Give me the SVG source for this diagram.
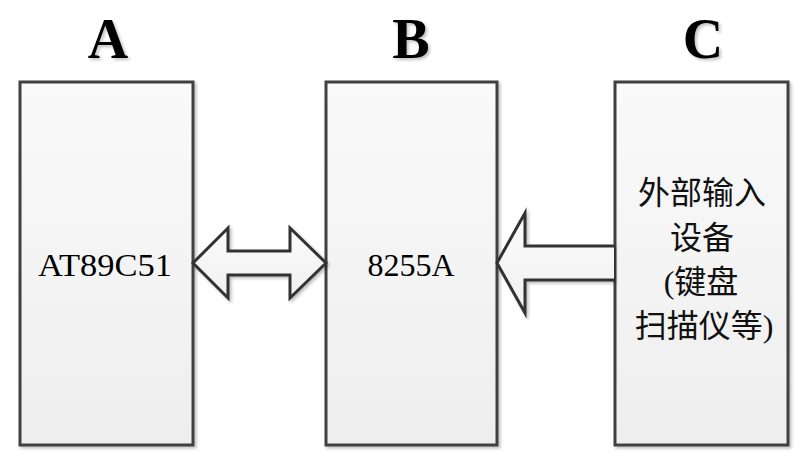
<svg xmlns="http://www.w3.org/2000/svg" width="808" height="464" viewBox="0 0 808 464">
  <defs>
    <linearGradient id="boxFill" x1="0" y1="0" x2="0" y2="1">
      <stop offset="0" stop-color="#fafafa"/>
      <stop offset="1" stop-color="#eeeeee"/>
    </linearGradient>
    <linearGradient id="arrowFill" x1="0" y1="0" x2="0" y2="1">
      <stop offset="0" stop-color="#fbfbfb"/>
      <stop offset="1" stop-color="#f0f0f0"/>
    </linearGradient>
    <filter id="shadow" x="-10%" y="-10%" width="130%" height="130%">
      <feDropShadow dx="2" dy="2" stdDeviation="1.5" flood-color="#000" flood-opacity="0.25"/>
    </filter>
  </defs>
  <style>
    .box { fill: url(#boxFill); stroke: #404040; stroke-width: 3; filter: url(#shadow); }
    .arrow { fill: url(#arrowFill); stroke: #333333; stroke-width: 3; stroke-linejoin: miter; filter: url(#shadow); }
    .head { font-family: "Liberation Serif", "Times New Roman", serif; font-weight: bold; font-size: 56px; fill: #000; text-anchor: middle; filter: url(#shadow); }
    .lbl { font-family: "Liberation Serif", "Times New Roman", serif; font-size: 32px; fill: #000; text-anchor: middle; }
    .cjk { font-family: "Liberation Serif", "Noto Sans CJK SC", serif; font-size: 32px; fill: #111; text-anchor: middle; }
  </style>
  <rect width="808" height="464" fill="#ffffff"/>

  <g id="titles">
    <text class="head" x="108" y="58">A</text>
    <text class="head" x="411" y="58">B</text>
    <text class="head" x="703" y="58">C</text>
  </g>

  <g id="nodeA">
    <rect class="box" x="20" y="82" width="173" height="363"/>
    <text class="lbl" x="105" y="276" textLength="134" lengthAdjust="spacingAndGlyphs">AT89C51</text>
  </g>

  <g id="nodeB">
    <rect class="box" x="326" y="82" width="171" height="363"/>
    <text class="lbl" x="411" y="276">8255A</text>
  </g>

  <g id="nodeC">
    <rect class="box" x="615" y="82" width="173" height="363"/>
    <text class="cjk" x="702" y="204">外部输入</text>
    <text class="cjk" x="702" y="249">设备</text>
    <text class="cjk" x="701" y="293">(键盘</text>
    <text class="cjk" x="704" y="337">扫描仪等)</text>
  </g>

  <g id="connectors">
    <path class="arrow" d="M193,263 L228,228 L228,251 L290,251 L290,228 L326,263 L290,298 L290,275 L228,275 L228,298 Z"/>
    <path class="arrow" d="M614,246 L525,246 L525,213 L497,263 L525,313 L525,280 L614,280"/>
  </g>
</svg>
